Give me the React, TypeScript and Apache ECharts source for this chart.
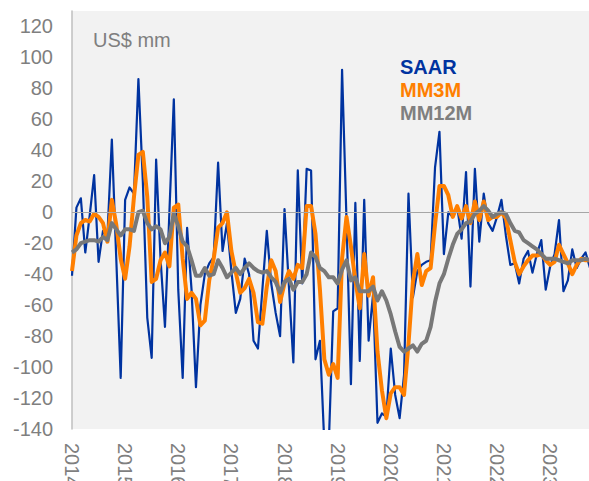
import React, { useEffect, useRef } from 'react';
import * as echarts from 'echarts';

const YEARS = ['2014', '2015', '2016', '2017', '2018', '2019', '2020', '2021', '2022', '2023'];
const MONTHS = ['01', '02', '03', '04', '05', '06', '07', '08', '09', '10', '11', '12'];

const SAAR = [
  -41, 3, 9, -26, -2, 24, -32, -12, -15, 47,
  -30, -107, 8, 16, 12, 86, 20, -68, -94, 34,
  -30, -74, 0, 73, -50, -107, -10, -50, -113, -60,
  -40, -33, -29, 32, -25, -7, -38, -65, -56, -30,
  -40, -83, -88, -50, -12, -46, -65, -80, 2, -48,
  -97, 27, -46, 28, 27, -95, -83, -150, -150, -64,
  -62, 92, -5, -111, 6, -96, 8, -83, -53, -136,
  -130, -132, -88, -118, -133, -105, 12, -55, -38, -34,
  -32, -31, 29, 52, -27, 0, -3, 4, -17, 26,
  -48, 28, -19, 12, -7, -12, -3, 8, -15, -34,
  -33, -46, -30, -25, -39, -27, -18, -50, -35, -27,
  -5, -51, -44, -24, -36, -30, -26, -36,
];

const MM3M = [
  -38, -15, -7, -5, -6, -1, -3, -7, -19, 8,
  -8, -30, -43, -22, 10, 37, 39, 10, -45, -43,
  -31, -26, -35, 3, 5, -30, -56, -52, -56, -73,
  -70, -44, -30, -10, -7, 0, -25, -39, -52, -49,
  -43, -52, -71, -72, -48, -31, -38, -58, -46, -38,
  -43, -34, -36, 4, 4, -14, -50, -95, -105, -98,
  -107, -30, -3, -22, -44, -62, -27, -54, -42, -90,
  -115, -133, -117, -113, -113, -118, -85, -45, -27, -47,
  -38, -36, -8, 17, 17, 11, -3, 4, -4, 4,
  -7, 7, -5, 7, -5, -3, -3, 0, -4, -18,
  -32, -40, -35, -31, -28, -28, -27, -31, -34, -32,
  -21, -27, -33, -40, -34, -30, -31, -31,
];

const MM12M = [
  -26, -24, -20, -19, -18, -18, -19, -16, -18, -7,
  -11, -15, -11, -11, -12, 0, 1, -7, -11, -9,
  -11, -20, -16, -1, -9, -19, -22, -31, -41, -41,
  -36, -41, -40, -31, -36, -42, -39, -36, -40, -36,
  -33, -36, -38, -39, -38, -42, -45, -52, -45, -43,
  -50, -45, -45, -40, -26, -29, -36, -38, -42, -42,
  -46, -37, -31, -44, -42, -51, -51, -51, -48, -57,
  -51, -57, -66, -77, -87, -90, -88, -86, -90, -85,
  -83, -74, -58, -46, -40, -30, -21, -14, -11, -7,
  -6, -1, 1, 4, 1, -3, -1, 0, -1, -7,
  -12, -13, -18, -20, -22, -24, -27, -30, -30, -30,
  -31, -32, -33, -31, -31, -31, -30, -31,
];

const CATEGORIES = YEARS.flatMap((y) => MONTHS.map((m) => `${y}-${m}`)).slice(0, SAAR.length);

const Y_MIN = -140;
const Y_MAX = 130;
const Y_STEP = 20;

const FONT = '"Liberation Sans", Arial, sans-serif';
const BLUE = '#0033a0';
const ORANGE = '#ff7f00';
const GREY = '#787878';
const LABEL_GREY = '#7f7f7f';

export default function App() {
  const ref = useRef<HTMLDivElement>(null);

  useEffect(() => {
    if (!ref.current) return;
    const chart = echarts.init(ref.current, undefined, { renderer: 'svg' });
    chart.setOption({
      animation: false,
      backgroundColor: '#ffffff',
      grid: {
        left: 72,
        right: -1,
        top: 11,
        bottom: 52,
        show: true,
        backgroundColor: '#f2f2f2',
        borderWidth: 0,
        containLabel: false,
        outerBoundsMode: 'none',
      },
      xAxis: {
        type: 'category',
        data: CATEGORIES,
        boundaryGap: false,
        axisLine: { show: false },
        axisTick: { show: false },
        splitLine: { show: false },
        axisLabel: {
          interval: (idx: number) => idx % 12 === 0,
          rotate: -90,
          margin: 14,
          color: LABEL_GREY,
          fontSize: 20,
          fontFamily: FONT,
          formatter: (v: string) => v.slice(0, 4),
        },
      },
      yAxis: {
        type: 'value',
        min: Y_MIN,
        max: Y_MAX,
        interval: Y_STEP,
        axisLine: { show: true, lineStyle: { color: '#bfbfbf', width: 1.5 } },
        axisTick: { show: false },
        splitLine: { show: false },
        axisLabel: {
          color: LABEL_GREY,
          fontSize: 20,
          fontFamily: FONT,
          margin: 19,
          showMaxLabel: false,
          formatter: (v: number) => (v > 120 ? '' : String(v)),
        },
      },
      series: [
        {
          name: 'SAAR',
          type: 'line',
          data: SAAR,
          symbol: 'none',
          lineStyle: { color: BLUE, width: 2.2, join: 'round' },
          markLine: {
            silent: true,
            symbol: ['none', 'none'],
            label: { show: false },
            lineStyle: { color: '#a6a6a6', width: 1, type: 'solid' },
            data: [{ yAxis: 0 }],
          },
        },
        {
          name: 'MM3M',
          type: 'line',
          data: MM3M,
          symbol: 'none',
          lineStyle: { color: ORANGE, width: 4, join: 'round' },
        },
        {
          name: 'MM12M',
          type: 'line',
          data: MM12M,
          symbol: 'none',
          lineStyle: { color: GREY, width: 4, join: 'round' },
        },
      ],
      graphic: [
        {
          type: 'text',
          x: 93,
          y: 40,
          style: { text: 'US$ mm', fill: LABEL_GREY, font: `20px ${FONT}`, verticalAlign: 'middle' },
        },
        {
          type: 'text',
          x: 400,
          y: 67,
          style: { text: 'SAAR', fill: BLUE, font: `bold 20px ${FONT}`, verticalAlign: 'middle' },
        },
        {
          type: 'text',
          x: 400,
          y: 90,
          style: { text: 'MM3M', fill: ORANGE, font: `bold 20px ${FONT}`, verticalAlign: 'middle' },
        },
        {
          type: 'text',
          x: 400,
          y: 113,
          style: { text: 'MM12M', fill: LABEL_GREY, font: `bold 20px ${FONT}`, verticalAlign: 'middle' },
        },
      ],
    });
    return () => chart.dispose();
  }, []);

  return (
    <div
      ref={ref}
      style={{ position: 'fixed', left: 0, top: 0, width: 589, height: 481, background: '#ffffff' }}
    />
  );
}
